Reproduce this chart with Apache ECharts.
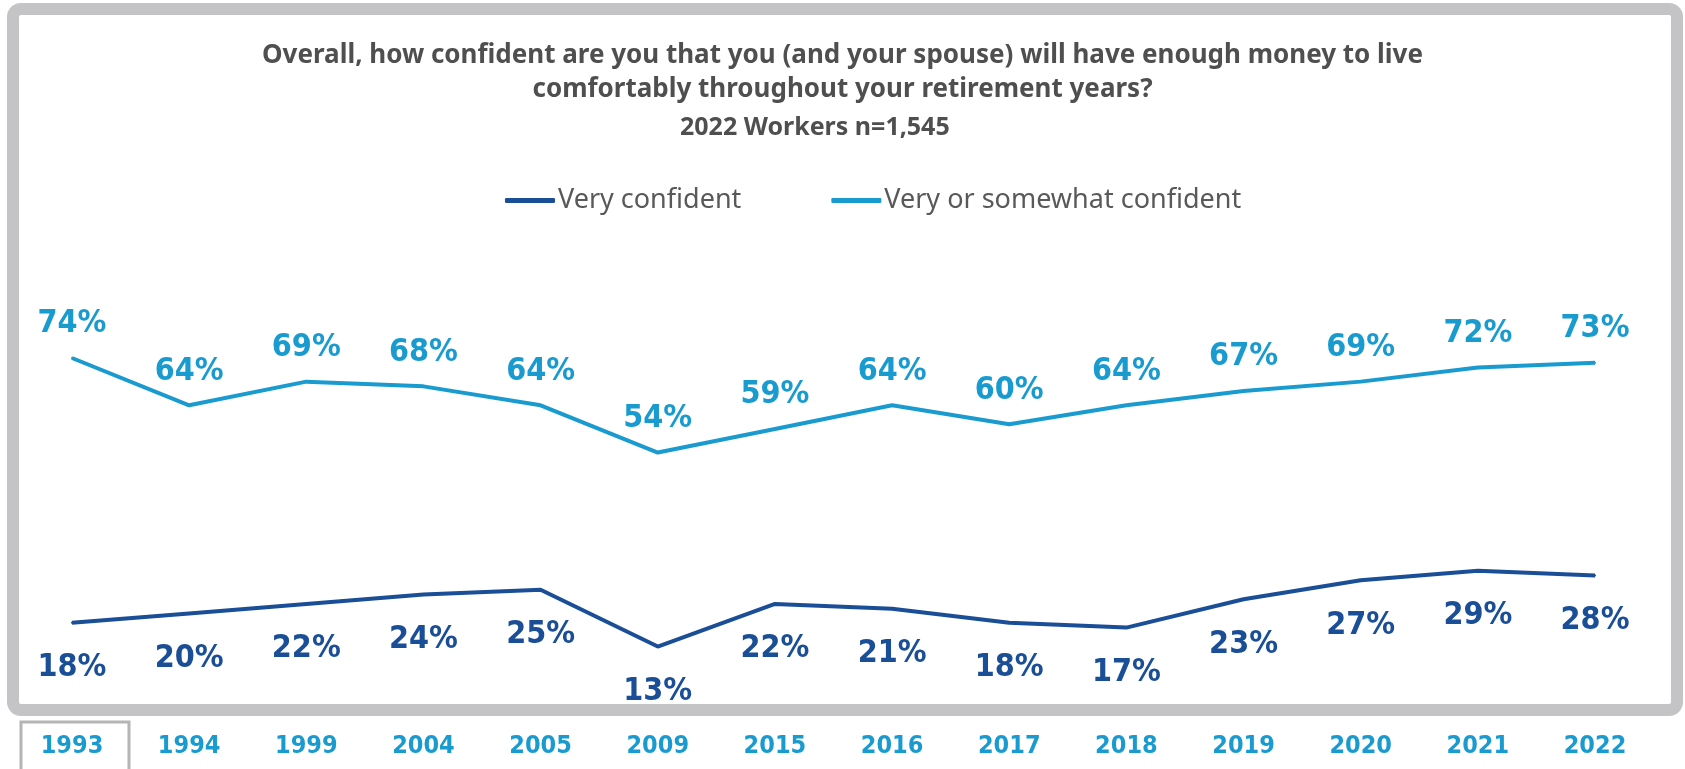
<!DOCTYPE html>
<html>
<head>
<meta charset="utf-8">
<style>
  html, body { margin: 0; padding: 0; background: #ffffff; }
  #chart { width: 1685px; height: 769px; }
</style>
<script src="https://cdn.jsdelivr.net/npm/echarts@6/dist/echarts.min.js"></script>
</head>
<body>
<div id="chart"></div>
<script>
// Survey years shown along the bottom
const years = ['1993', '1994', '1999', '2004', '2005', '2009', '2015', '2016', '2017', '2018', '2019', '2020', '2021', '2022'];
// Share of workers (%) by confidence level
const veryConfident = [18, 20, 22, 24, 25, 13, 22, 21, 18, 17, 23, 27, 29, 28];
const veryOrSomewhat = [74, 64, 69, 68, 64, 54, 59, 64, 60, 64, 67, 69, 72, 73];
const seriesNames = ['Very confident', 'Very or somewhat confident'];

const DARK = '#1a4e96';
const LIGHT = '#1a9bd0';
const NARROW = '"Liberation Sans Narrow", "DejaVu Sans Condensed", "Liberation Sans", sans-serif';
const SANS = '"Noto Sans", sans-serif';

const chart = echarts.init(document.getElementById('chart'), null, { renderer: 'canvas' });

const pctLabel = (position, distance, color) => ({
  show: true,
  position: position,
  distance: distance,
  formatter: p => p.value + '%',
  fontFamily: NARROW,
  fontWeight: 'bold',
  fontSize: 32,
  color: color
});

const option = {
  animation: false,
  backgroundColor: '#ffffff',
  title: [
    {
      text: 'Overall, how confident are you that you (and your spouse) will have enough money to live\ncomfortably throughout your retirement years?',
      left: 'center',
      top: 39,
      padding: 0,
      textStyle: {
        fontFamily: SANS,
        fontWeight: 'bold',
        fontSize: 26,
        lineHeight: 34,
        color: '#4f4f4f'
      }
    },
    {
      text: '2022 Workers n=1,545',
      left: 680,
      top: 113,
      padding: 0,
      textStyle: {
        fontFamily: SANS,
        fontWeight: 'bold',
        fontSize: 25,
        lineHeight: 30,
        color: '#4f4f4f'
      }
    }
  ],
  legend: {
    data: seriesNames,
    left: 500,
    top: 182,
    itemWidth: 50,
    itemHeight: 5,
    itemGap: 90,
    icon: 'roundRect',
    textStyle: {
      fontFamily: SANS,
      fontSize: 27,
      color: '#595959',
      padding: [0, 0, 0, -2]
    }
  },
  grid: {
    left: 13.4,
    right: 31.4,
    top: 235,
    bottom: 61,
    containLabel: false
  },
  xAxis: {
    type: 'category',
    data: years,
    boundaryGap: true,
    axisLine: { show: false },
    axisTick: { show: false },
    axisLabel: {
      margin: 26,
      fontFamily: NARROW,
      fontWeight: 'bold',
      fontSize: 25,
      color: LIGHT
    }
  },
  yAxis: {
    type: 'value',
    min: 0,
    max: 100,
    show: false,
    splitLine: { show: false }
  },
  series: [
    {
      name: seriesNames[0],
      type: 'line',
      data: veryConfident,
      symbol: 'circle',
      symbolSize: 2,
      showSymbol: true,
      lineStyle: { color: DARK, width: 4 },
      itemStyle: { color: DARK },
      label: pctLabel('bottom', 28, DARK)
    },
    {
      name: seriesNames[1],
      type: 'line',
      data: veryOrSomewhat,
      symbol: 'circle',
      symbolSize: 2,
      showSymbol: true,
      lineStyle: { color: LIGHT, width: 4 },
      itemStyle: { color: LIGHT },
      label: pctLabel('top', 17, LIGHT)
    }
  ]
};

chart.setOption(option);

// Frame around the plot area and the outlined first year label
const firstX = chart.convertToPixel({ xAxisIndex: 0 }, years[0]);
chart.setOption({
  graphic: [
    {
      type: 'rect',
      z: -1,
      shape: { x: 13, y: 9, width: 1664, height: 701, r: 8 },
      style: { fill: 'none', stroke: '#c4c3c6', lineWidth: 12 }
    },
    {
      type: 'rect',
      z: -1,
      shape: { x: firstX - 51, y: 722, width: 108, height: 60 },
      style: { fill: 'none', stroke: '#b5b5b5', lineWidth: 3 }
    }
  ]
});
</script>
</body>
</html>
